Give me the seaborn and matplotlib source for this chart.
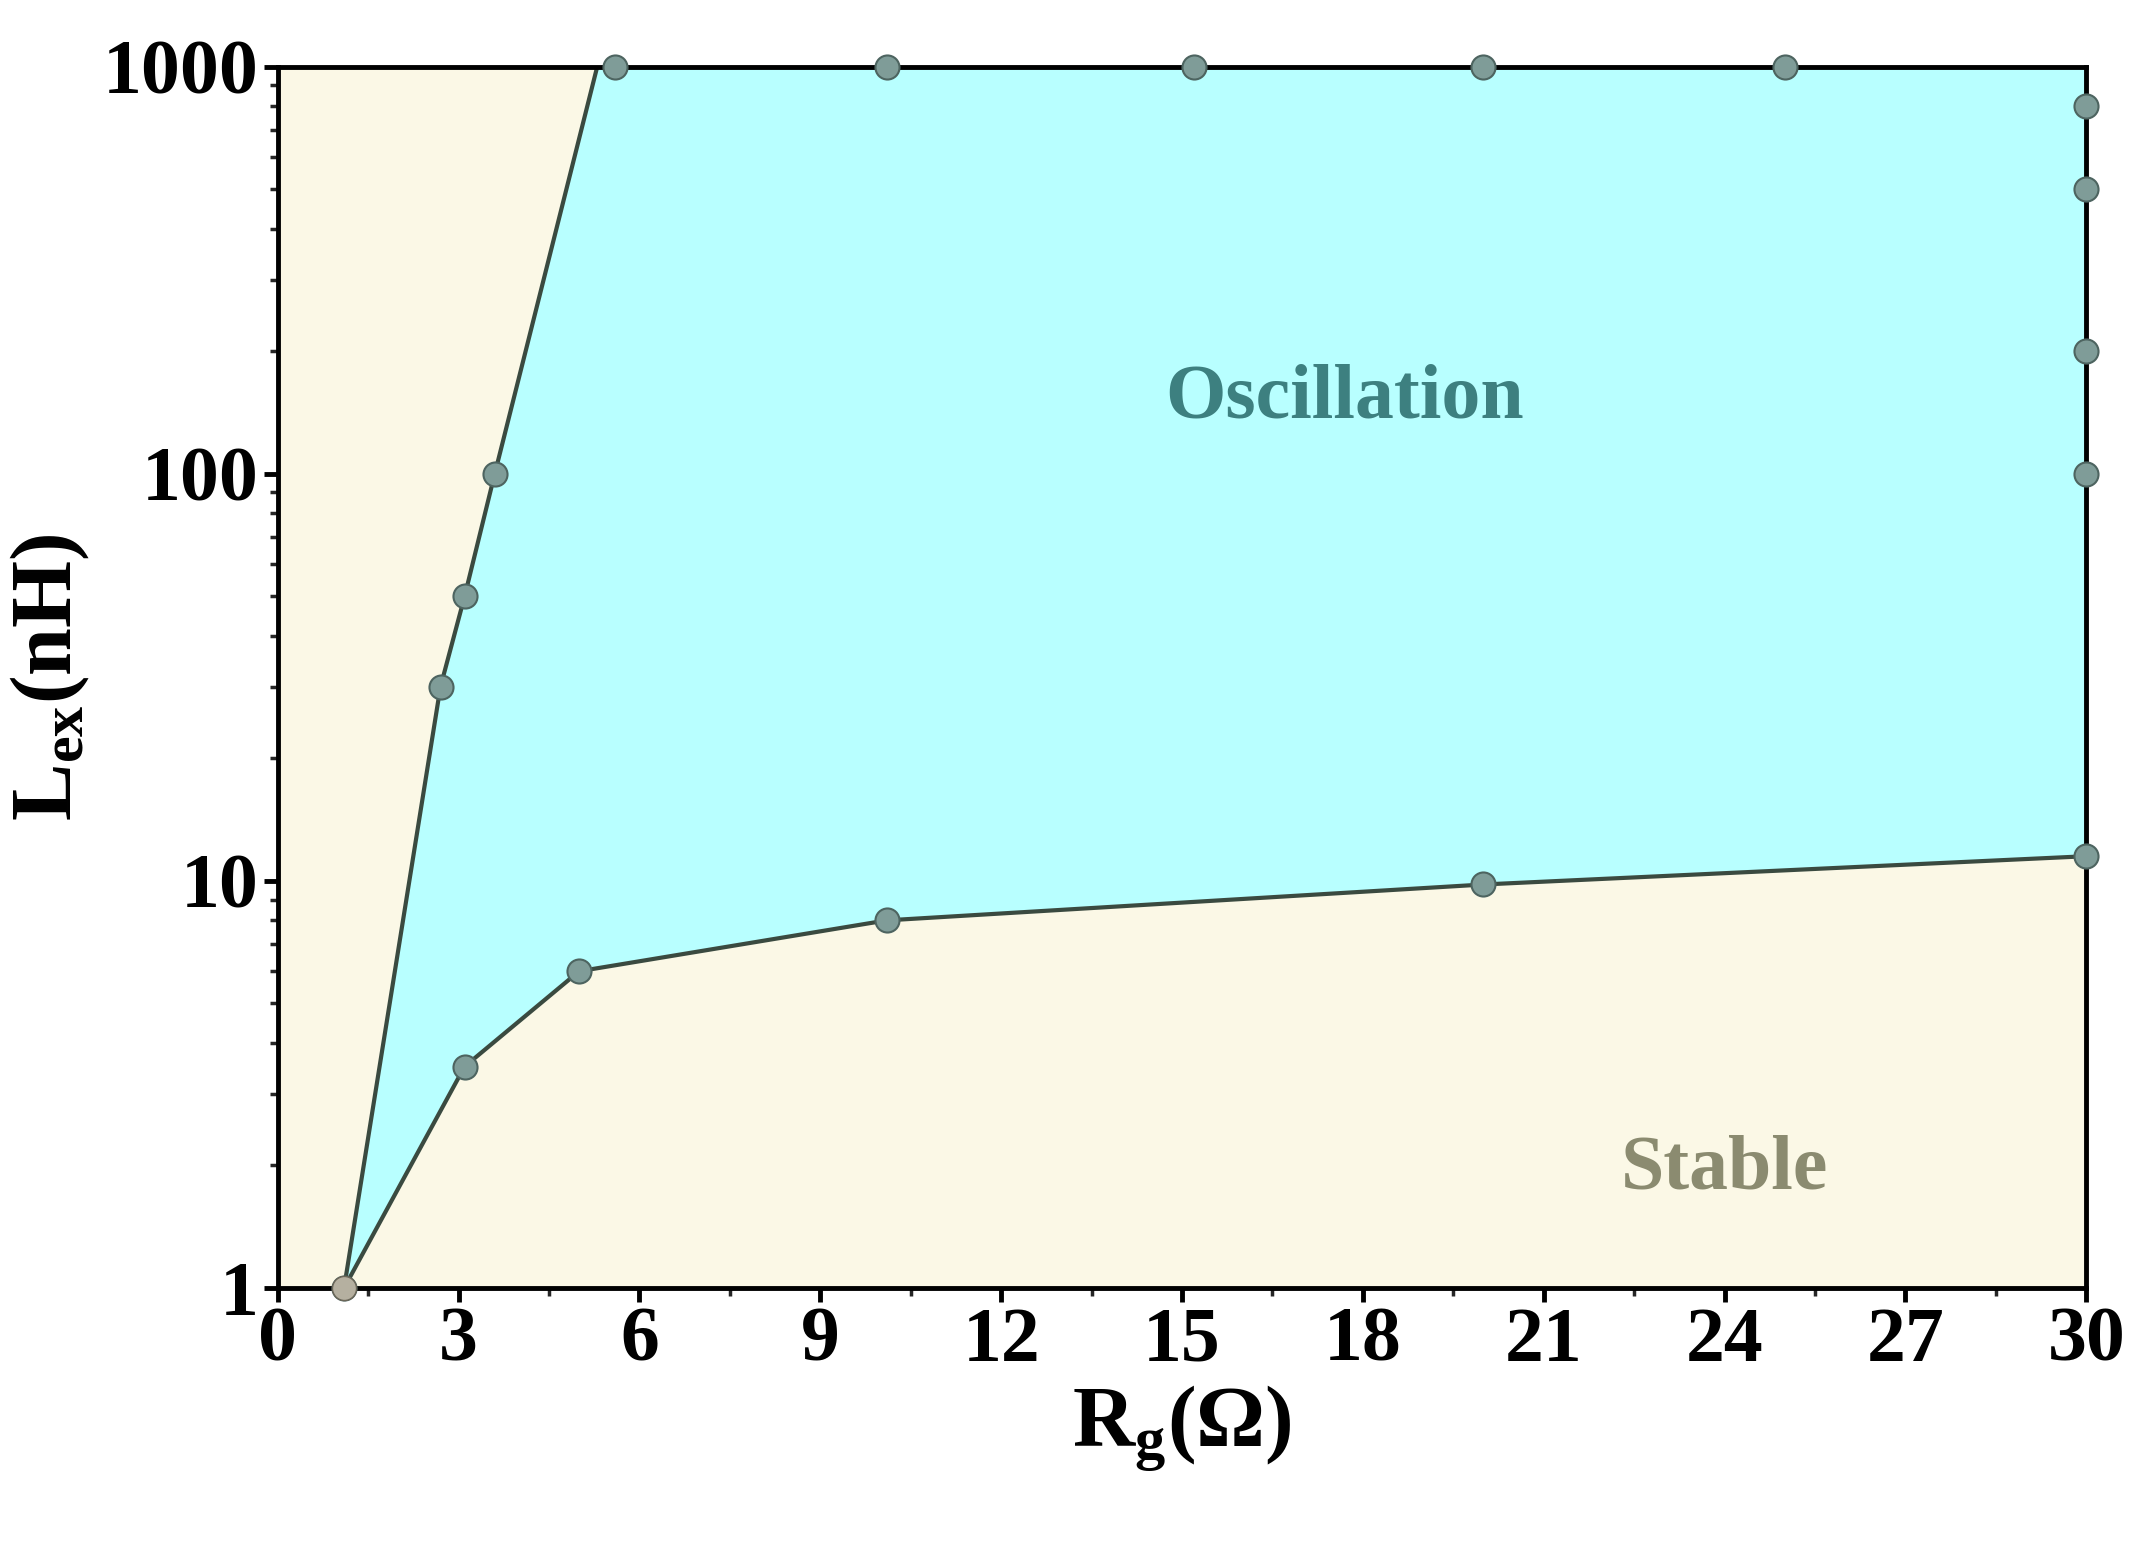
import matplotlib.pyplot as plt
import seaborn as sns
import pandas as pd
import numpy as np

# boundary data
left_rg = [1.1, 2.7, 3.1, 3.6, 5.3]
left_l = [1, 30, 50, 100, 1000]
low_rg = [1.1, 3.1, 5.0, 10.1, 20.0, 30.0]
low_l = [1, 3.5, 6, 8, 9.8, 11.5]
top_rg = [5.6, 10.1, 15.2, 20.0, 25.0]
top_l = [1000, 1000, 1000, 1000, 1000]
right_rg = [30, 30, 30, 30]
right_l = [800, 500, 200, 100]

sns.set_theme(style="ticks")
plt.rcParams['font.family'] = ['Liberation Serif', 'DejaVu Serif']
plt.rcParams['font.weight'] = 'bold'
plt.rcParams['mathtext.fontset'] = 'custom'
plt.rcParams['mathtext.rm'] = 'Liberation Serif:bold'
plt.rcParams['mathtext.bf'] = 'Liberation Serif:bold'
plt.rcParams['mathtext.it'] = 'Liberation Serif:bold'
plt.rcParams['mathtext.default'] = 'bf'

fig = plt.figure(figsize=(21.53, 15.5), dpi=100)
ax = fig.add_axes([0.129, 0.169, 0.84, 0.788])
ax.set_facecolor('#FBF8E6')

poly_x = left_rg + [30] + low_rg[::-1]
poly_y = left_l + [1000] + low_l[::-1]
ax.fill(poly_x, poly_y, color='#B8FFFF', zorder=1)

left = pd.DataFrame({'rg': left_rg, 'l': left_l})
low = pd.DataFrame({'rg': low_rg, 'l': low_l})
sns.lineplot(data=left, x='rg', y='l', ax=ax, color='#3a4a40', lw=3, zorder=2)
sns.lineplot(data=low, x='rg', y='l', ax=ax, color='#3a4a40', lw=3, zorder=2)

pts = pd.DataFrame({'rg': left_rg[:-1] + low_rg[1:] + top_rg + right_rg,
                    'l': left_l[:-1] + low_l[1:] + top_l + right_l})
sns.scatterplot(data=pts, x='rg', y='l', ax=ax, s=300, color='#7f9c98',
                edgecolor='#4d6460', linewidth=1.5, zorder=3, clip_on=False)
ax.scatter([1.1], [1], s=300, color='#b5b0a0', edgecolor='#6b6658', zorder=3, clip_on=False)

ax.set_yscale('log')
ax.set_xlim(0, 30)
ax.set_ylim(1, 1000)
ax.set_xticks(range(0, 31, 3))
ax.set_xticks(np.arange(1.5, 30, 3), minor=True)
ax.set_yticks([1, 10, 100, 1000])
ax.set_yticklabels(['1', '10', '100', '1000'])
ax.tick_params(labelsize=56, width=3.5, length=10, direction='out', colors='black')
ax.tick_params(which='minor', width=2.5, length=6)
for s in ax.spines.values():
    s.set_linewidth(3.5)
    s.set_color('black')
ax.set_xlabel(r'R$_{\mathbf{g}}$(Ω)', fontsize=62, fontweight='bold', labelpad=4, color='black')
ax.set_ylabel(r'L$_{\mathbf{ex}}$(nH)', fontsize=62, fontweight='bold', labelpad=8, color='black')

ax.text(17.7, 153, 'Oscillation', fontsize=56, fontweight='bold', color='#3d8080', ha='center', va='center')
ax.text(24, 1.95, 'Stable', fontsize=56, fontweight='bold', color='#8b8b70', ha='center', va='center')

fig.savefig('out.png')
